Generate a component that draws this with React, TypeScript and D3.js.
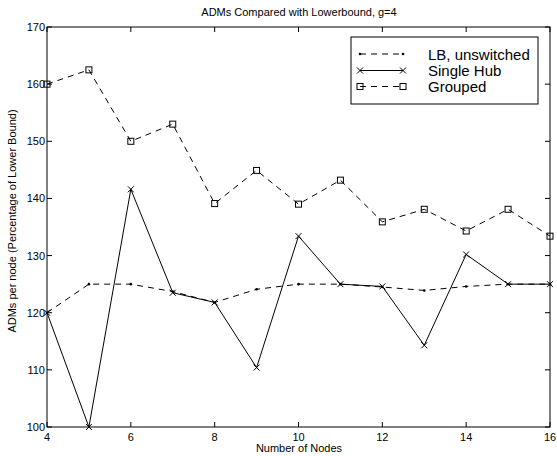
import React from "react";
import * as d3 from "d3";

const nodes = [4, 5, 6, 7, 8, 9, 10, 11, 12, 13, 14, 15, 16];
const lbUnswitched = [120, 125, 125, 123.7, 121.8, 124.1, 125, 125, 124.5, 123.9, 124.6, 125, 125];
const singleHub = [120, 100, 141.6, 123.5, 121.8, 110.4, 133.4, 125, 124.6, 114.3, 130.2, 125, 125];
const grouped = [160, 162.5, 150, 153, 139.1, 144.9, 139, 143.2, 135.9, 138.1, 134.3, 138.1, 133.4];
const xTicks = [4, 6, 8, 10, 12, 14, 16];
const yTicks = [100, 110, 120, 130, 140, 150, 160, 170];
const legendLabels = ["LB, unswitched", "Single Hub", "Grouped"];

const W = 557, H = 456;
const L = 47, R = 550, T = 27, B = 427;
const font = "'Liberation Sans', Arial, Helvetica, sans-serif";
const dash = "6,5";

export default function App() {
  const x = d3.scaleLinear().domain([4, 16]).range([L, R]);
  const y = d3.scaleLinear().domain([100, 170]).range([B, T]);
  const line = d3.line<number>().x((_, i) => x(nodes[i])).y((v) => y(v));

  const xMark = (cx: number, cy: number, k: string) => (
    <path key={k} d={`M${cx - 3},${cy - 3}L${cx + 3},${cy + 3}M${cx - 3},${cy + 3}L${cx + 3},${cy - 3}`} stroke="#000" strokeWidth={1} fill="none" />
  );
  const sqMark = (cx: number, cy: number, k: string) => (
    <rect key={k} x={cx - 3} y={cy - 3} width={6} height={6} fill="none" stroke="#000" strokeWidth={1} />
  );
  const dotMark = (cx: number, cy: number, k: string) => (
    <circle key={k} cx={cx} cy={cy} r={1.3} fill="#000" />
  );

  const legY = [54, 70.5, 86.5];
  const lx0 = 360, lx1 = 403;

  return (
    <svg width={W} height={H} style={{ position: "absolute", left: 0, top: 0, background: "#fff" }}>
      <rect x={0} y={0} width={W} height={H} fill="#fff" />
      <text x={299} y={16} fontSize={11} textAnchor="middle" fontFamily={font}>ADMs Compared with Lowerbound, g=4</text>
      <rect x={L} y={T} width={R - L} height={B - T} fill="none" stroke="#000" strokeWidth={1} />
      {xTicks.map((t) => (
        <g key={"xt" + t}>
          <line x1={x(t)} x2={x(t)} y1={B} y2={B - 5} stroke="#000" />
          <line x1={x(t)} x2={x(t)} y1={T} y2={T + 5} stroke="#000" />
          <text x={x(t)} y={B + 14} fontSize={11} textAnchor="middle" fontFamily={font}>{t}</text>
        </g>
      ))}
      {yTicks.map((t) => (
        <g key={"yt" + t}>
          <line x1={L} x2={L + 5} y1={y(t)} y2={y(t)} stroke="#000" />
          <line x1={R} x2={R - 5} y1={y(t)} y2={y(t)} stroke="#000" />
          <text x={L - 2} y={y(t) + 4} fontSize={11} textAnchor="end" fontFamily={font}>{t}</text>
        </g>
      ))}
      <text x={299} y={452} fontSize={11} textAnchor="middle" fontFamily={font}>Number of Nodes</text>
      <text transform={`translate(16,221) rotate(-90)`} fontSize={11} textAnchor="middle" fontFamily={font}>ADMs per node (Percentage of Lower Bound)</text>

      <path d={line(lbUnswitched) || ""} fill="none" stroke="#000" strokeWidth={1} strokeDasharray={dash} />
      {lbUnswitched.map((v, i) => dotMark(x(nodes[i]), y(v), "lb" + i))}
      <path d={line(singleHub) || ""} fill="none" stroke="#000" strokeWidth={1} />
      {singleHub.map((v, i) => xMark(x(nodes[i]), y(v), "sh" + i))}
      <path d={line(grouped) || ""} fill="none" stroke="#000" strokeWidth={1} strokeDasharray={dash} />
      {grouped.map((v, i) => sqMark(x(nodes[i]), y(v), "gr" + i))}

      <rect x={351} y={37} width={187} height={67} fill="#fff" stroke="#000" strokeWidth={1} />
      <line x1={lx0} x2={lx1} y1={legY[0]} y2={legY[0]} stroke="#000" strokeDasharray={dash} />
      {dotMark(lx0, legY[0], "l0a")}
      {dotMark(lx1, legY[0], "l0b")}
      <line x1={lx0} x2={lx1} y1={legY[1]} y2={legY[1]} stroke="#000" />
      {xMark(lx0, legY[1], "l1a")}
      {xMark(lx1, legY[1], "l1b")}
      <line x1={lx0} x2={lx1} y1={legY[2]} y2={legY[2]} stroke="#000" strokeDasharray={dash} />
      {sqMark(lx0, legY[2], "l2a")}
      {sqMark(lx1, legY[2], "l2b")}
      {legendLabels.map((s, i) => (
        <text key={s} x={428} y={legY[i] + 5.5} fontSize={15} fontFamily={font}>{s}</text>
      ))}
    </svg>
  );
}
